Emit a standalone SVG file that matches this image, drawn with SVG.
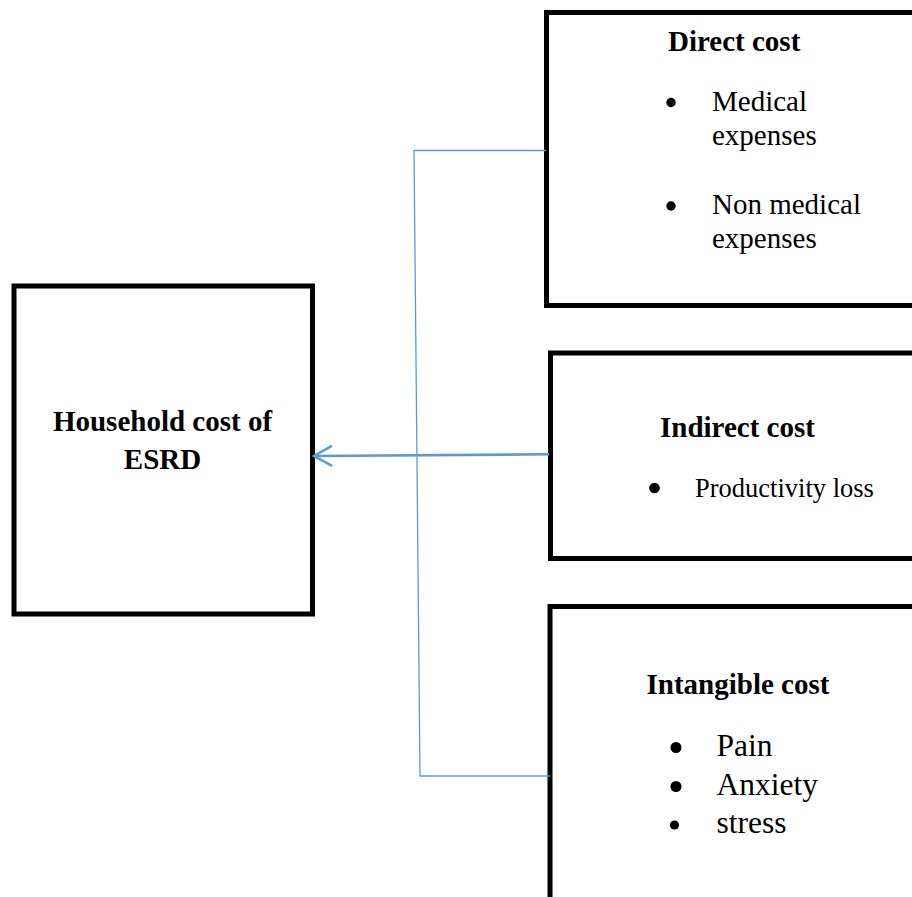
<svg xmlns="http://www.w3.org/2000/svg" width="912" height="897" viewBox="0 0 912 897">
<style>
.box{fill:#fff;stroke:#000;stroke-width:5}
.t{font-family:"Liberation Serif","Times New Roman",serif;fill:#000}
.h{font-weight:bold;font-size:29px}
.b{font-size:29px}
.conn{fill:none;stroke:#5B9BD5}
.dot{fill:#000}
</style>
<defs>
<marker id="arr" markerUnits="userSpaceOnUse" markerWidth="26" markerHeight="26" viewBox="0 0 26 26" refX="21" refY="13" orient="auto">
<path d="M3,3 L21,13 L3,23" fill="none" stroke="#5B9BD5" stroke-width="2.5"/>
</marker>
</defs>
<rect width="912" height="897" fill="#fff"/>
<g id="household">
<rect class="box" x="14" y="286" width="298.5" height="328"/>
<text class="t h" x="162.5" y="431" text-anchor="middle">Household cost of</text>
<text class="t h" x="162.5" y="469" text-anchor="middle">ESRD</text>
</g>
<g id="direct">
<rect class="box" x="546.5" y="12.5" width="400" height="293"/>
<text class="t h" x="668" y="51">Direct cost</text>
<circle class="dot" cx="671" cy="102.5" r="4.7"/>
<text class="t b" x="712" y="111">Medical</text>
<text class="t b" x="712" y="145">expenses</text>
<circle class="dot" cx="671" cy="206" r="4.7"/>
<text class="t b" x="712" y="214">Non medical</text>
<text class="t b" x="712" y="248">expenses</text>
</g>
<g id="indirect">
<rect class="box" x="550.5" y="353" width="400" height="205.5"/>
<text class="t h" x="660" y="436.5">Indirect cost</text>
<circle class="dot" cx="654.5" cy="488" r="5.3"/>
<text class="t" style="font-size:26.5px" x="695" y="497">Productivity loss</text>
</g>
<g id="intangible">
<rect class="box" x="550" y="606.5" width="400" height="320"/>
<text class="t h" x="646.5" y="694">Intangible cost</text>
<circle class="dot" cx="676" cy="747.5" r="5.5"/>
<text class="t" style="font-size:31.5px" x="716.5" y="756">Pain</text>
<circle class="dot" cx="676" cy="786.5" r="5.5"/>
<text class="t" style="font-size:31.5px" x="716.5" y="794.5">Anxiety</text>
<circle class="dot" cx="674.5" cy="825" r="4.6"/>
<text class="t" style="font-size:31.5px" x="716.5" y="832.5">stress</text>
</g>
<g id="connectors">
<path class="conn" stroke-width="1.3" d="M546,150.5 L414,150.5 L420,776 L550,776"/>
<path class="conn" stroke-width="2.6" d="M549,454.3 L314,456" marker-end="url(#arr)"/>
</g>
</svg>
